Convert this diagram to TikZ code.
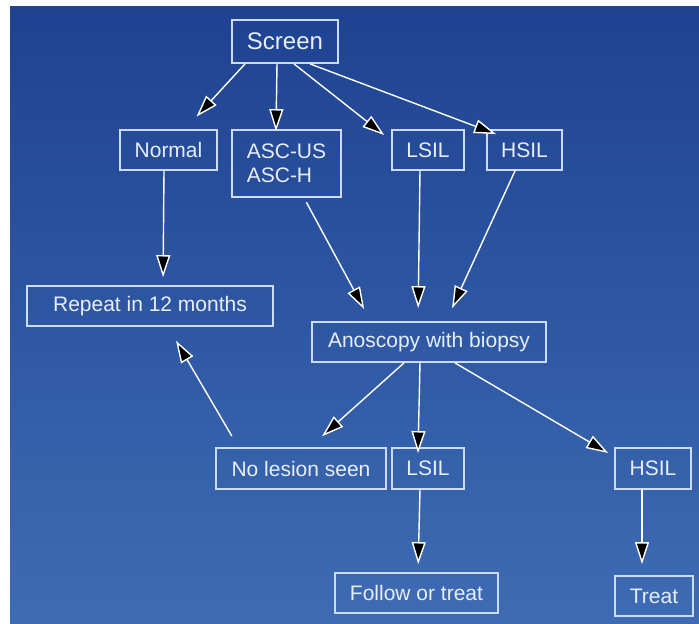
\documentclass[tikz,border=0pt]{standalone}
\usepackage{fontspec}
\setmainfont{Liberation Sans}
\usetikzlibrary{arrows.meta}
\definecolor{bgtop}{RGB}{30,66,145}
\definecolor{bgbot}{RGB}{62,108,180}
\definecolor{edge}{RGB}{205,220,242}
\definecolor{ink}{RGB}{232,238,248}
\tikzset{
  box/.style={draw=edge,line width=1.8pt,text=ink,inner sep=0pt,
    font=\fontsize{21}{24}\selectfont},
  arr/.style={draw=white,line width=1.4pt,
    -{Triangle[length=22pt,width=14pt,fill=black]}}
}
\begin{document}
\begin{tikzpicture}[x=1pt,y=-1pt]
  \useasboundingbox (0,0) rectangle (699,624);
  \shade[top color=bgtop,bottom color=bgbot] (10,6) rectangle (699,624);
  % first row
  \node[box,minimum width=106pt,minimum height=43pt,font=\fontsize{24}{28}\selectfont] (screen) at (285,41.5) {Screen};
  \node[box,minimum width=97pt,minimum height=40pt] (normal) at (168.5,150) {Normal};
  \node[box,minimum width=109pt,minimum height=67pt,align=left] (asc) at (286.5,163.5) {ASC-US\\ASC-H};
  \node[box,minimum width=72pt,minimum height=40pt] (lsilA) at (428,150) {LSIL};
  \node[box,minimum width=75pt,minimum height=40pt] (hsilA) at (524.5,150) {HSIL};
  % middle
  \node[box,minimum width=246pt,minimum height=40pt] (repeat) at (150,306) {Repeat in 12 months};
  \node[box,minimum width=234pt,minimum height=40pt] (anos) at (429,342) {Anoscopy with biopsy};
  % biopsy results
  \node[box,minimum width=170pt,minimum height=41pt] (nolesion) at (301,468.5) {No lesion seen};
  \node[box,minimum width=72pt,minimum height=41pt] (lsilB) at (428,468.5) {LSIL};
  \node[box,minimum width=76pt,minimum height=41pt] (hsilB) at (653,468.5) {HSIL};
  \node[box,minimum width=163pt,minimum height=40pt] (follow) at (416.5,593) {Follow or treat};
  \node[box,minimum width=78pt,minimum height=40pt] (treat) at (654,596) {Treat};
  % arrows
  \path[arr,shorten >=17pt] ([xshift=-40pt]screen.south) -- ([xshift=16.5pt]normal.north);
  \path[arr] ([xshift=-8pt]screen.south) -- ([xshift=-10.5pt,yshift=-2pt]asc.north);
  \path[arr,shorten >=8.9pt] ([xshift=9pt]screen.south) -- ([yshift=9.5pt]lsilA.west);
  \path[arr] ([xshift=25pt]screen.south) -- ([xshift=10pt,yshift=-5pt]hsilA.north west);
  \path[arr,shorten >=8pt] ([xshift=-4.5pt]normal.south) -- ([xshift=13pt]repeat.north);
  \path[arr,shorten <=5pt,shorten >=13.7pt] ([xshift=17.5pt]asc.south) -- ([xshift=-58.3pt]anos.north);
  \path[arr,shorten >=13pt] ([xshift=-8pt]lsilA.south) -- ([xshift=-11pt]anos.north);
  \path[arr,shorten >=14.3pt] ([xshift=-9.5pt]hsilA.south) -- ([xshift=17.1pt]anos.north);
  \path[arr,shorten <=12.7pt,shorten >=16.2pt] ([xshift=-62.7pt]nolesion.north) -- ([xshift=17.9pt]repeat.south);
  \path[arr,shorten >=16.3pt] ([xshift=-25pt]anos.south) -- ([xshift=9pt]nolesion.north);
  \path[arr] ([xshift=-9pt]anos.south) -- ([xshift=-10pt,yshift=-6pt]lsilB.north);
  \path[arr,shorten >=6.9pt] ([xshift=26pt]anos.south) -- ([yshift=12pt]hsilB.west);
  \path[arr,shorten >=8pt] ([xshift=-8pt]lsilB.south) -- ([xshift=1.5pt]follow.north);
  \path[arr,shorten >=11pt] ([xshift=-11pt]hsilB.south) -- ([xshift=-12pt]treat.north);
\end{tikzpicture}
\end{document}
